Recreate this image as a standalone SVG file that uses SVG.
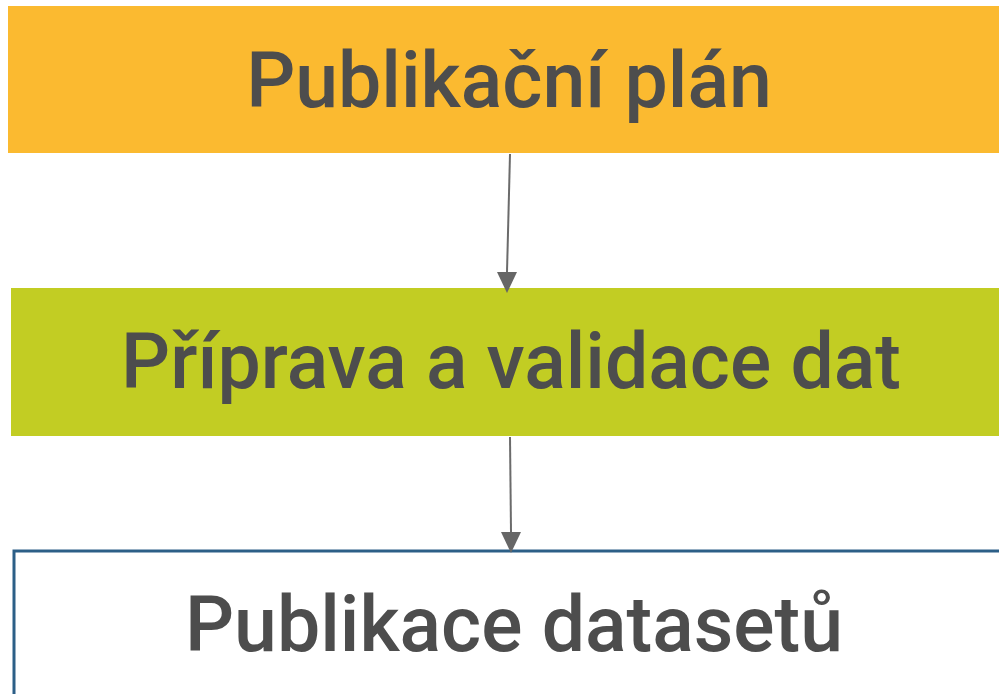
<svg xmlns="http://www.w3.org/2000/svg" width="999" height="694" viewBox="0 0 999 694">
<style>
.t{font-family:Roboto,"Liberation Sans",sans-serif;font-size:77px;font-weight:500;fill:#4d4d4d;text-anchor:middle}
.c{stroke:#6b6b6b;stroke-width:2;fill:none}
</style>
<rect width="999" height="694" fill="#fff"/>
<g id="n1">
<rect x="8" y="6" width="1000" height="147" fill="#FBBA30"/>
<text class="t" x="509" y="107">Publikační plán</text>
</g>
<g id="n2">
<rect x="11" y="288" width="1000" height="148" fill="#C2CD23"/>
<text class="t" x="511" y="388">Příprava a validace dat</text>
</g>
<g id="n3">
<rect x="14" y="551" width="1000" height="150" fill="#fff" stroke="#2C5F87" stroke-width="3"/>
<text class="t" x="514" y="651">Publikace datasetů</text>
</g>
<g id="connectors">
<path class="c" d="M510,154 L507,272"/>
<path d="M497,272 L517,272 L507,293 z" fill="#666"/>
<path class="c" d="M510,437 L511,532"/>
<path d="M501,532 L521,532 L511,553 z" fill="#666"/>
</g>
</svg>
